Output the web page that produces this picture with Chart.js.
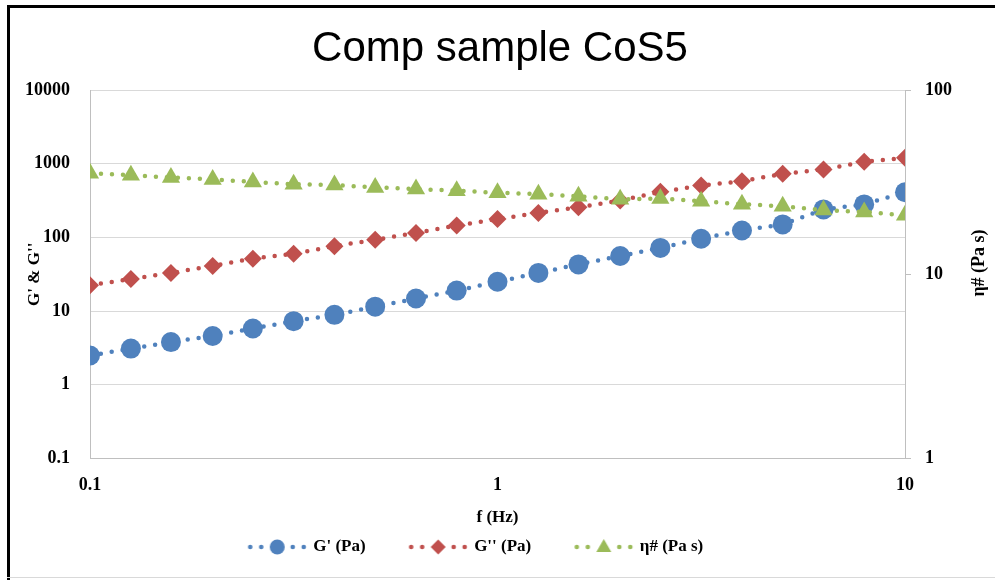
<!DOCTYPE html>
<html>
<head>
<meta charset="utf-8">
<script src="https://cdn.jsdelivr.net/npm/chart.js@4.4.1/dist/chart.umd.min.js"></script>
<style>
  html, body { margin: 0; padding: 0; background: #fff; }
</style>
</head>
<body>
<canvas id="grafico" width="995" height="580"></canvas>
<script>
// frequenze (Hz) e valori
const freq = [0.1, 0.126, 0.158, 0.2, 0.251, 0.316, 0.398, 0.501, 0.631, 0.794,
              1, 1.26, 1.58, 2, 2.51, 3.16, 3.98, 5.01, 6.31, 7.94, 10];
const gPrime = [2.5, 3.1, 3.8, 4.6, 5.8, 7.3, 8.9, 11.5, 14.8, 19,
                25, 33, 43, 56, 72, 96, 124, 150, 240, 280, 410];
const gDouble = [22.4, 27.3, 33, 41, 51.5, 60, 76, 93, 115, 145,
                 177, 215, 256, 316, 415, 506, 578, 729, 834, 1060, 1200];
const eta = [35.3, 34.5, 33.5, 32.7, 31.7, 30.8, 30.5, 29.6, 29.0, 28.4,
             27.7, 27.2, 26.5, 25.5, 25.8, 24.9, 24.0, 23.4, 22.3, 21.8, 20.9];

const xTicks = [0.1, 1, 10];
const yTicks = [0.1, 1, 10, 100, 1000, 10000];
const y2Ticks = [1, 10, 100];
const seriesLabels = ["G' (Pa)", "G'' (Pa)", "η# (Pa s)"];

const BLUE = '#4F81BD', RED = '#C0504D', GREEN = '#9BBB59';
const SERIF = "'Liberation Serif', 'Times New Roman', serif";
const tickFont = { family: SERIF, size: 18, weight: 'bold' };
const labelFont = { family: SERIF, size: 17, weight: 'bold' };

function punti(vals) {
  return freq.map((f, i) => ({ x: f, y: vals[i] }));
}

// icona legenda: puntini + marker
function legendIcon(color, style) {
  const c = document.createElement('canvas');
  c.width = 98; c.height = 20;
  const g = c.getContext('2d');
  g.fillStyle = color;
  [39.5, 50.5, 82, 93].forEach(x => {
    g.beginPath(); g.arc(x, 10, 2.3, 0, Math.PI * 2); g.fill();
  });
  const cx = 66.5, cy = 10;
  g.beginPath();
  if (style === 'circle') {
    g.arc(cx, cy, 7.5, 0, Math.PI * 2);
  } else if (style === 'rectRot') {
    g.moveTo(cx - 7.5, cy); g.lineTo(cx, cy - 7.5); g.lineTo(cx + 7.5, cy); g.lineTo(cx, cy + 7.5);
    g.closePath();
  } else {
    g.moveTo(cx, cy - 8); g.lineTo(cx + 7.5, cy + 5); g.lineTo(cx - 7.5, cy + 5);
    g.closePath();
  }
  g.fill();
  return c;
}
const icons = [legendIcon(BLUE, 'circle'), legendIcon(RED, 'rectRot'), legendIcon(GREEN, 'triangle')];

const cornice = {
  id: 'cornice',
  afterLayout(chart) {
    // la legenda nell'originale non e' centrata
    chart.legend.left -= 41;
    chart.legend.right -= 41;
  },
  beforeDraw(chart) {
    const ctx = chart.ctx;
    ctx.save();
    ctx.fillStyle = '#fff';
    ctx.fillRect(0, 0, chart.width, chart.height);
    ctx.fillStyle = '#000';
    ctx.fillRect(7, 5, 3, 575);
    ctx.fillRect(7, 5, 988, 3);
    ctx.fillStyle = '#d9d9d9';
    ctx.fillRect(7, 577, 988, 1);
    ctx.restore();
  },
  afterDraw(chart) {
    // titolo asse destro, letto dal basso verso l'alto
    const ctx = chart.ctx;
    ctx.save();
    ctx.translate(979, 263);
    ctx.rotate(-Math.PI / 2);
    ctx.textAlign = 'center';
    ctx.textBaseline = 'middle';
    ctx.fillStyle = '#000';
    ctx.font = 'bold 18px ' + SERIF;
    ctx.fillText(seriesLabels[2], 0, 0);
    ctx.restore();
  }
};

function serie(i, vals, color, style, radius, axis, order) {
  return {
    label: seriesLabels[i],
    data: punti(vals),
    yAxisID: axis,
    borderColor: color,
    backgroundColor: color,
    borderWidth: 4.5,
    borderDash: [0, 11],
    borderCapStyle: 'round',
    pointStyle: style,
    pointRadius: radius,
    pointHoverRadius: radius,
    pointBackgroundColor: color,
    pointBorderWidth: 0,
    order: order
  };
}

const ctx = document.getElementById('grafico').getContext('2d');
new Chart(ctx, {
  type: 'line',
  data: {
    datasets: [
      serie(0, gPrime, BLUE, 'circle', 10, 'y', 3),
      serie(1, gDouble, RED, 'rectRot', 9, 'y', 2),
      serie(2, eta, GREEN, 'triangle', 10.5, 'y2', 1)
    ]
  },
  options: {
    responsive: false,
    devicePixelRatio: 1,
    animation: false,
    layout: { padding: { top: 8, left: 20, right: 15, bottom: 14.5 } },
    plugins: {
      title: {
        display: true,
        text: 'Comp sample CoS5',
        color: '#000',
        font: { family: "'Liberation Sans', Arial, sans-serif", size: 42, weight: 'normal' },
        padding: { top: 15.8, bottom: 15.8 }
      },
      legend: {
        position: 'bottom',
        labels: {
          usePointStyle: true,
          pointStyleWidth: 90,
          padding: 10,
          color: '#000',
          font: labelFont,
          sort: (a, b) => a.datasetIndex - b.datasetIndex,
          generateLabels: chart => Chart.defaults.plugins.legend.labels.generateLabels(chart)
            .map(it => Object.assign(it, { pointStyle: icons[it.datasetIndex] }))
        }
      },
      tooltip: { enabled: false }
    },
    scales: {
      x: {
        type: 'logarithmic',
        position: 'bottom',
        min: 0.1,
        max: 10,
        afterBuildTicks: s => { s.ticks = xTicks.map(v => ({ value: v })); },
        afterFit: s => { s.height = 70; },
        grid: { display: false },
        border: { display: true, color: '#bfbfbf', width: 1 },
        ticks: { padding: 8, color: '#000', font: tickFont, maxRotation: 0, autoSkip: false,
                 callback: v => String(v) },
        title: { display: true, text: 'f (Hz)', color: '#000', font: labelFont, padding: { top: 0, bottom: 1 } }
      },
      y: {
        type: 'logarithmic',
        position: 'left',
        min: 0.1,
        max: 10000,
        afterBuildTicks: s => { s.ticks = yTicks.map(v => ({ value: v })); },
        afterFit: s => { s.width = 70; },
        grid: { color: '#d9d9d9', drawTicks: false },
        border: { display: true, color: '#bfbfbf', width: 1 },
        ticks: { padding: 20, color: '#000', font: tickFont, autoSkip: false, callback: v => String(v) },
        title: { display: true, text: "G' & G''", color: '#000', font: labelFont, padding: { top: 4, bottom: 0 } }
      },
      y2: {
        type: 'logarithmic',
        position: 'right',
        min: 1,
        max: 100,
        afterBuildTicks: s => { s.ticks = y2Ticks.map(v => ({ value: v })); },
        afterFit: s => { s.width = 75; },
        grid: { drawOnChartArea: false, drawTicks: true, tickLength: 6, color: '#bfbfbf' },
        border: { display: true, color: '#bfbfbf', width: 1 },
        ticks: { padding: 14, color: '#000', font: tickFont, autoSkip: false, callback: v => String(v) }
      }
    }
  },
  plugins: [cornice]
});
</script>
</body>
</html>
